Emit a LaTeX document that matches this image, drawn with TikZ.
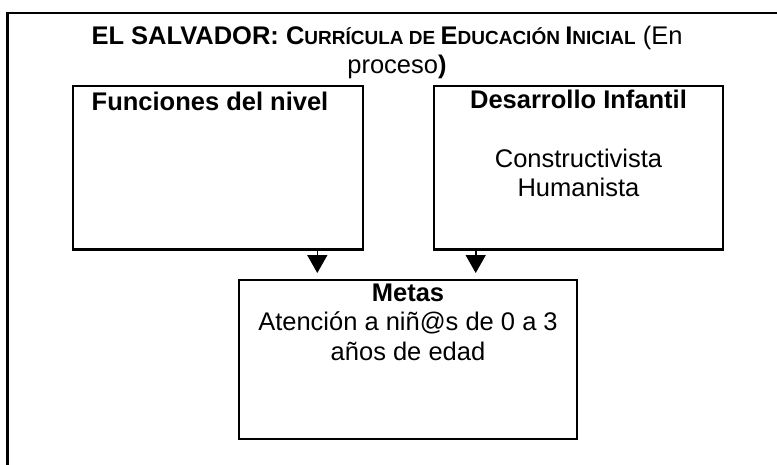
\documentclass[tikz,border=0pt]{standalone}
\usepackage{fontspec}
\setmainfont{Liberation Sans}
\usetikzlibrary{arrows.meta}
\newcommand{\fakesc}[2]{#1{\fontsize{19}{29.5}\selectfont #2}}
\tikzset{
  frame/.style={line width=2.2pt, line cap=rect},
  box/.style={draw, line width=2.2pt, rectangle, inner sep=0pt},
  txt/.style={anchor=base, align=center, inner sep=0pt, font=\fontsize{25.5}{29.5}\selectfont},
  arr/.style={line width=1.6pt, -{Triangle[width=20pt,length=18pt]}}
}
\begin{document}
\begin{tikzpicture}[x=1pt,y=-1pt]
\useasboundingbox (0,0) rectangle (777,464);
\coordinate (fr1) at (780,12.7);
\coordinate (fr2) at (7.5,12.7);
\coordinate (fr3) at (7.5,467);
\draw[frame] (fr1) -- (fr2) -- (fr3);
\node[txt] (title1) at (387,44) {\textbf{EL SALVADOR: \fakesc{C}{URRÍCULA DE }\fakesc{E}{DUCACIÓN }\fakesc{I}{NICIAL}} (En};
\node[txt] (title2) at (397,73.5) {proceso\textbf{)}};
\node[box, minimum width=290pt, minimum height=163.5pt] (fun) at (218,167.75) {};
\node[box, minimum width=289pt, minimum height=163.5pt] (des) at (578.8,167.75) {};
\node[box, minimum width=338pt, minimum height=159pt] (met) at (408,359.5) {};
\node[txt] (funt) at (210,110) {\textbf{Funciones del nivel}};
\node[txt] (dest) at (578.5,196.7) {\textbf{Desarrollo Infantil}\\ \\Constructivista\\Humanista};
\node[txt] (mett) at (408,360) {\textbf{Metas}\\Atención a niñ@s de 0 a 3\\años de edad};
\coordinate (t1) at (317.3,273);
\coordinate (t2) at (475.7,273);
\draw[arr] (t1 |- fun.south) -- (t1);
\draw[arr] (t2 |- des.south) -- (t2);
\end{tikzpicture}
\end{document}
